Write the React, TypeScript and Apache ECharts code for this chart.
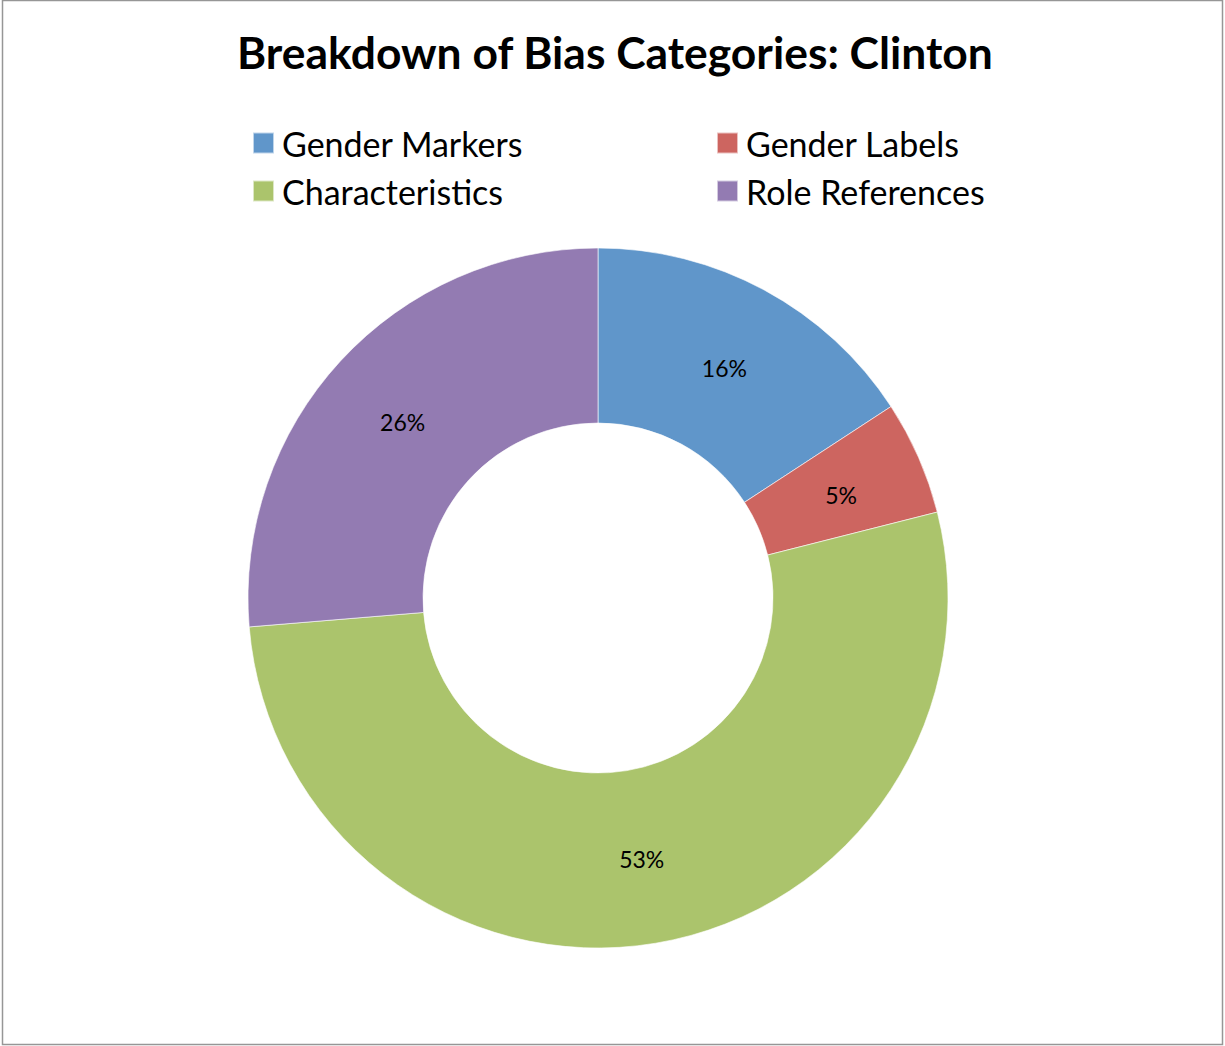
import React, { useEffect, useRef } from "react";
import * as echarts from "echarts";

const titleText = "Breakdown of Bias Categories: Clinton";
const categories = ["Gender Markers", "Gender Labels", "Characteristics", "Role References"];
const counts = [3, 1, 10, 5];
const colors = ["#6096CA", "#CD6560", "#ABC46C", "#937BB2"];
const legendLeftColumn = ["Gender Markers", "Characteristics"];
const legendRightColumn = ["Gender Labels", "Role References"];

const FONT = "Lato";

export default function App() {
  const ref = useRef<HTMLDivElement>(null);
  useEffect(() => {
    document.body.style.margin = "0";
    const chart = echarts.init(ref.current!, null, { renderer: "svg" });
    const total = counts.reduce((a, b) => a + b, 0);
    const legendCommon = {
      orient: "vertical",
      top: 125,
      itemWidth: 21,
      itemHeight: 21,
      itemGap: 12,
      icon: "rect",
      textStyle: { fontFamily: FONT, fontSize: 34, color: "#000", lineHeight: 32, padding: [4, 0, 0, 3] },
      padding: 0,
    };
    chart.setOption({
      animation: false,
      backgroundColor: "#fff",
      title: {
        text: titleText,
        left: 237,
        top: 29,
        padding: 0,
        textStyle: { fontFamily: FONT, fontSize: 44.4, fontWeight: "bold", color: "#000" },
      },
      legend: [
        { ...legendCommon, left: 252, data: legendLeftColumn },
        { ...legendCommon, left: 716, data: legendRightColumn },
      ],
      graphic: [
        {
          type: "rect",
          shape: { x: 2.5, y: 0.5, width: 1220, height: 1044 },
          style: { fill: "none", stroke: "#969696", lineWidth: 1.5 },
          silent: true,
        },
      ],
      series: [
        {
          type: "pie",
          center: [598, 598],
          radius: [175, 350],
          startAngle: 90,
          clockwise: true,
          label: {
            show: true,
            position: "inside",
            fontFamily: FONT,
            fontSize: 23,
            color: "#000",
            offset: [0, 4],
            formatter: (p: any) => Math.round((p.value / total) * 100) + "%",
          },
          labelLine: { show: false },
          itemStyle: { borderColor: "rgba(255,255,255,0.6)", borderWidth: 1 },
          emphasis: { disabled: true },
          data: categories.map((c, i) => ({
            name: c,
            value: counts[i],
            itemStyle: { color: colors[i] },
            ...(i === 2 ? { label: { offset: [0, -1] } } : {}),
          })),
        },
      ],
    });
    return () => chart.dispose();
  }, []);
  return <div ref={ref} style={{ width: 1225, height: 1046 }} />;
}
